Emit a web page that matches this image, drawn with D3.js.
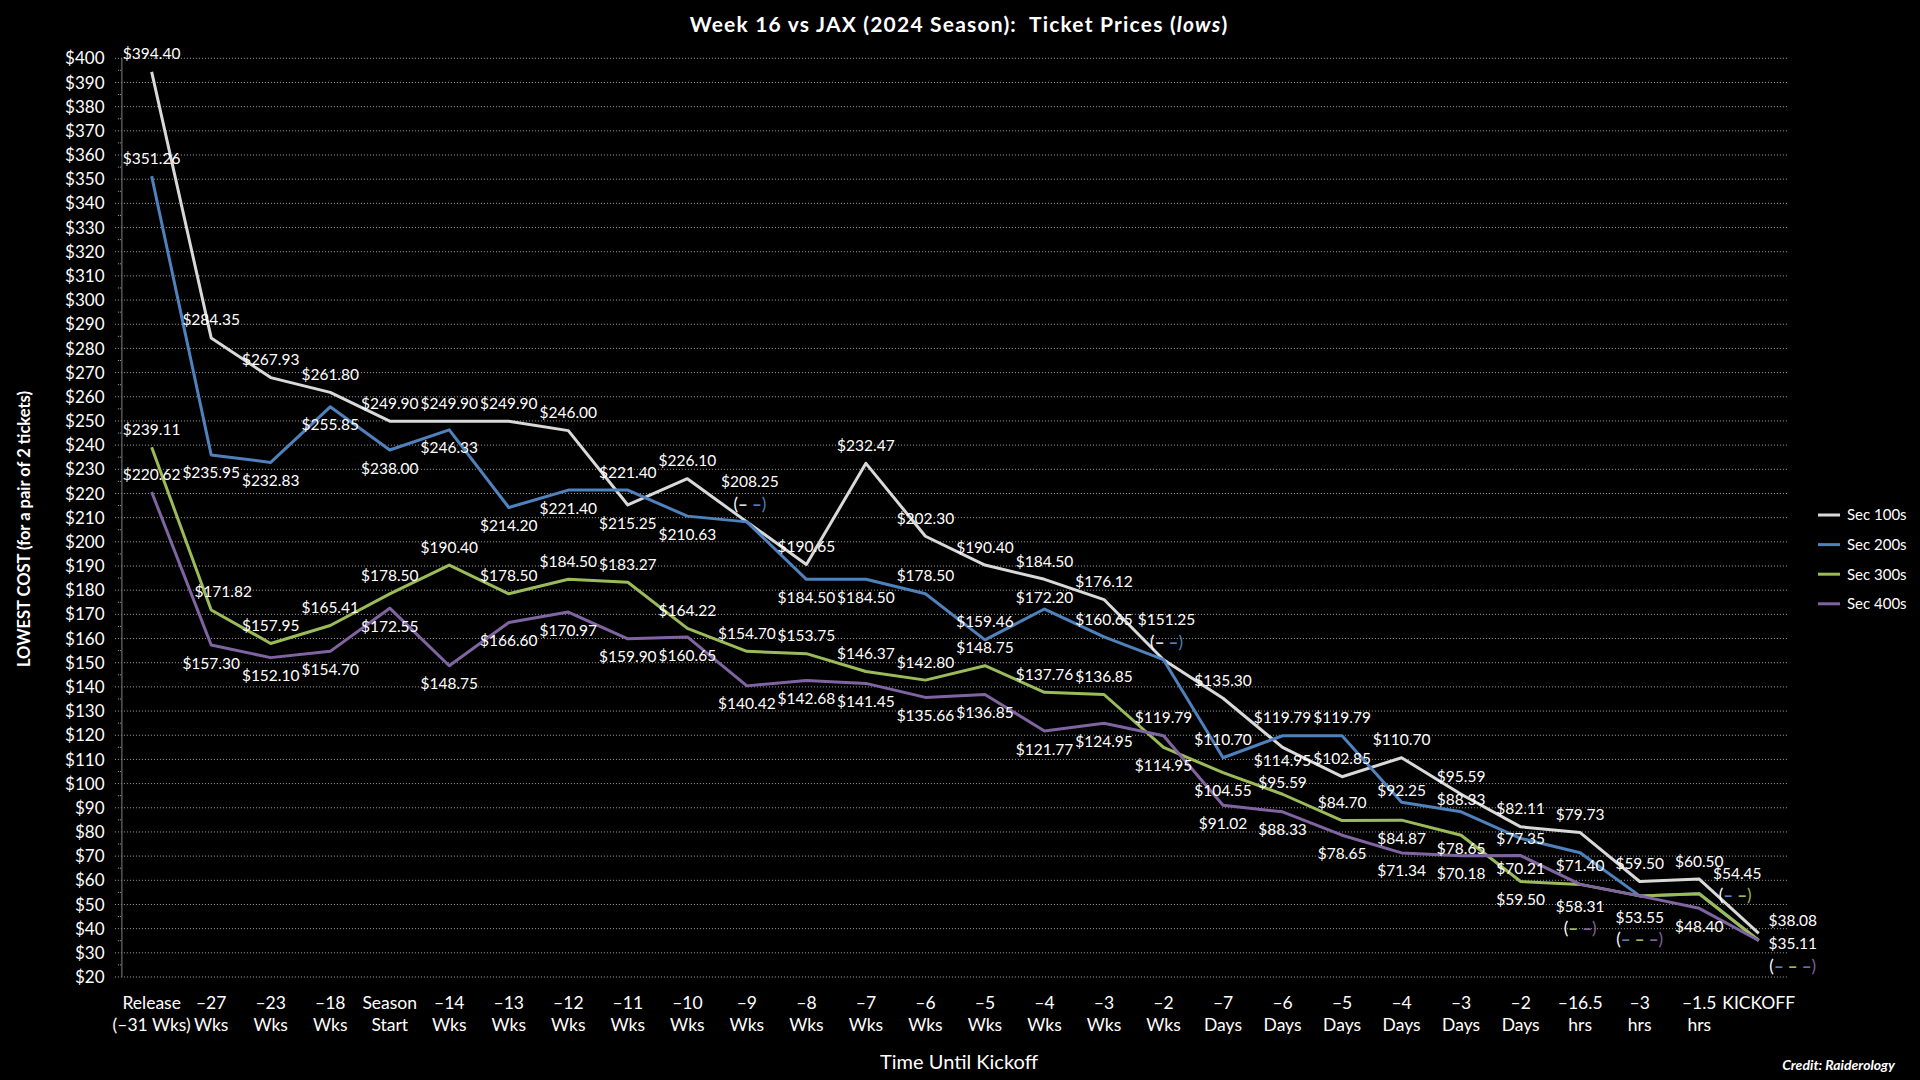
<!DOCTYPE html>
<html><head><meta charset="utf-8">
<script src="https://cdn.jsdelivr.net/npm/d3@7"></script>
<style>html,body{margin:0;padding:0;background:#000;} svg{display:block;}</style>
</head><body>
<svg id="chart" width="1920" height="1080"></svg>
<script>
// ---------------- DATA ----------------
const categories = [["Release","(–31 Wks)"],["–27","Wks"],["–23","Wks"],["–18","Wks"],["Season","Start"],["–14","Wks"],["–13","Wks"],["–12","Wks"],["–11","Wks"],["–10","Wks"],["–9","Wks"],["–8","Wks"],["–7","Wks"],["–6","Wks"],["–5","Wks"],["–4","Wks"],["–3","Wks"],["–2","Wks"],["–7","Days"],["–6","Days"],["–5","Days"],["–4","Days"],["–3","Days"],["–2","Days"],["–16.5","hrs"],["–3","hrs"],["–1.5","hrs"],["KICKOFF"]];
const seriesNames = ["Sec 100s","Sec 200s","Sec 300s","Sec 400s"];
const sec100 = [394.40,284.35,267.93,261.80,249.90,249.90,249.90,246.00,215.25,226.10,208.25,190.65,232.47,202.30,190.40,184.50,176.12,151.25,135.30,114.95,102.85,110.70,95.59,82.11,79.73,59.50,60.50,38.08];
const sec200 = [351.26,235.95,232.83,255.85,238.00,246.33,214.20,221.40,221.40,210.63,208.25,184.50,184.50,178.50,159.46,172.20,160.65,151.25,110.70,119.79,119.79,92.25,88.33,77.35,71.40,53.55,54.45,35.11];
const sec300 = [239.11,171.82,157.95,165.41,178.50,190.40,178.50,184.50,183.27,164.22,154.70,153.75,146.37,142.80,148.75,137.76,136.85,114.95,104.55,95.59,84.70,84.87,78.65,59.50,58.31,53.55,54.45,35.11];
const sec400 = [220.62,157.30,152.10,154.70,172.55,148.75,166.60,170.97,159.90,160.65,140.42,142.68,141.45,135.66,136.85,121.77,124.95,119.79,91.02,88.33,78.65,71.34,70.18,70.21,58.31,53.55,48.40,35.11];
const yTicks = d3.range(20, 401, 10);

// ---------------- LABEL PLACEMENT (layout only) ----------------
// a above, a2 close above, b below, b2 close below, c centre, ru right-up, ar above-right;
// A/B/AR/R = shared-value group; '-' = part of a group labelled elsewhere
const place100 = "a a a a a a a a b a A a a a a a a A a b2 a a a a a a a ru".split(" ");
const place200 = "a b b b b b b b a b - b b a a a2 a - a a a a2 a2 c b2 B AR R".split(" ");
const place300 = "a ar a a a a a a a a a a a a a a a b b a2 a b b2 b B - - -".split(" ");
const place400 = "a b b b b b b b b b b b b b b b b a b b b b b b2 - - b -".split(" ");

// ---------------- STYLE ----------------
const colors = ["#d9d9d9","#4f81bd","#9bbb59","#8064a2"];
const FONT = "Lato, 'Open Sans', 'Noto Sans', sans-serif";
const W = 1920, H = 1080;
const plot = {left:121.9, right:1788.5, top:58.3, bottom:977};

const series = [sec100, sec200, sec300, sec400];
const places = [place100, place200, place300, place400];

const svg = d3.select("#chart");
svg.append("rect").attr("width", W).attr("height", H).attr("fill", "#000");

const x = d3.scalePoint().domain(d3.range(categories.length)).range([plot.left, plot.right]).padding(0.5);
const y = d3.scaleLinear().domain([20, 400]).range([plot.bottom, plot.top]);

// gridlines
const grid = svg.append("g");
grid.selectAll("line.g").data(yTicks).join("line")
  .attr("x1", plot.left - 7).attr("x2", plot.right)
  .attr("y1", d => y(d)).attr("y2", d => y(d))
  .attr("stroke", "#a6a6a6").attr("stroke-width", 1).attr("stroke-dasharray", "1,2");
// minor ticks
grid.selectAll("line.m").data(yTicks.slice(0, -1).map(d => d + 5)).join("line")
  .attr("x1", plot.left - 4).attr("x2", plot.left)
  .attr("y1", d => y(d)).attr("y2", d => y(d))
  .attr("stroke", "#a6a6a6").attr("stroke-width", 1).attr("stroke-dasharray", "1,1");
// y axis line
svg.append("line").attr("x1", plot.left).attr("x2", plot.left).attr("y1", plot.top).attr("y2", plot.bottom)
  .attr("stroke", "#7f7f7f").attr("stroke-width", 1);

// y tick labels
svg.append("g").selectAll("text").data(yTicks).join("text")
  .attr("x", 104.5).attr("y", d => y(d)).attr("dy", "0.36em")
  .attr("text-anchor", "end").attr("fill", "#ffffff")
  .style("font-family", FONT).style("font-size", "17px")
  .text(d => "$" + d);

// x tick labels
const xl = svg.append("g").selectAll("text").data(categories).join("text")
  .attr("text-anchor", "middle").attr("fill", "#ffffff")
  .style("font-family", FONT).style("font-size", "17.5px");
xl.each(function(d, i) {
  const t = d3.select(this);
  d.forEach((line, k) => {
    t.append("tspan").attr("x", x(i)).attr("y", 1003 + k * 22).attr("dy", "0.36em").text(line);
  });
});

// lines
const lineGen = d3.line().x((d, i) => x(i)).y(d => y(d));
series.forEach((s, si) => {
  svg.append("path").datum(s).attr("d", lineGen)
    .attr("fill", "none").attr("stroke", colors[si]).attr("stroke-width", 3)
    .attr("stroke-linejoin", "round").attr("stroke-linecap", "butt");
});

// data labels
const offs = {
  a:{dx:0, dy:-18}, a2:{dx:0, dy:-12}, b:{dx:0, dy:18}, b2:{dx:0, dy:13}, c:{dx:0, dy:0},
  ar:{dx:12, dy:-19}, ru:{dx:34, dy:-13}, r:{dx:34, dy:3},
  A:{dx:3, dy:-40, idx:3, idy:-18}, B:{dx:0, dy:22, idx:0, idy:43},
  AR:{dx:38, dy:-20, idx:36, idy:1}, R:{dx:34, dy:3, idx:34, idy:25}
};
const lab = svg.append("g");
series.forEach((s, si) => {
  s.forEach((v, i) => {
    const code = places[si][i];
    if (code === "-") return;
    const o = offs[code];
    const px = x(i), py = y(v);
    lab.append("text").attr("x", px + o.dx).attr("y", py + o.dy).attr("dy", "0.36em")
      .attr("text-anchor", "middle").attr("fill", "#ffffff")
      .style("font-family", FONT).style("font-size", "15.5px")
      .text("$" + v.toFixed(2));
    if (o.idy !== undefined) {
      const group = series.map((ss, k) => k).filter(k => series[k][i].toFixed(2) === v.toFixed(2));
      const t = lab.append("text").attr("x", px + o.idx).attr("y", py + o.idy).attr("dy", "0.36em")
        .attr("text-anchor", "middle")
        .style("font-family", FONT).style("font-size", "17px");
      t.append("tspan").attr("fill", "#ffffff").text("(");
      group.forEach((k, n) => {
        t.append("tspan").attr("fill", colors[k]).style("font-weight", "900").text((n > 0 ? " " : "") + "–");
      });
      t.append("tspan").attr("fill", colors[group[group.length - 1]]).text(")");
    }
  });
});

// legend
const lg = svg.append("g");
seriesNames.forEach((n, i) => {
  const ly = 515 + i * 29.6;
  lg.append("line").attr("x1", 1818).attr("x2", 1840).attr("y1", ly).attr("y2", ly)
    .attr("stroke", colors[i]).attr("stroke-width", 3);
  lg.append("text").attr("x", 1847).attr("y", ly).attr("dy", "0.36em").attr("fill", "#ffffff")
    .style("font-family", FONT).style("font-size", "15px").text(n);
});

// title
const title = svg.append("text").attr("x", 959).attr("y", 24.5).attr("dy", "0.36em")
  .attr("text-anchor", "middle").attr("fill", "#ffffff").attr("xml:space", "preserve")
  .style("font-family", FONT).style("font-size", "21px").style("font-weight", "bold")
  .style("letter-spacing", "1.2px");
title.append("tspan").text("Week 16 vs JAX (2024 Season):  Ticket Prices (");
title.append("tspan").style("font-style", "italic").text("lows");
title.append("tspan").text(")");

// axis titles
svg.append("text").attr("transform", "translate(24,529) rotate(-90)").attr("dy", "0.36em")
  .attr("text-anchor", "middle").attr("fill", "#ffffff")
  .style("font-family", FONT).style("font-size", "16.5px").style("font-weight", "bold")
  .text("LOWEST COST (for a pair of 2 tickets)");
svg.append("text").attr("x", 959).attr("y", 1062).attr("dy", "0.36em")
  .attr("text-anchor", "middle").attr("fill", "#ffffff")
  .style("font-family", FONT).style("font-size", "20px")
  .text("Time Until Kickoff");
svg.append("text").attr("x", 1895).attr("y", 1065).attr("dy", "0.36em")
  .attr("text-anchor", "end").attr("fill", "#ffffff")
  .style("font-family", FONT).style("font-size", "14px").style("font-weight", "bold").style("font-style", "italic")
  .text("Credit: Raiderology");
</script>
</body></html>
